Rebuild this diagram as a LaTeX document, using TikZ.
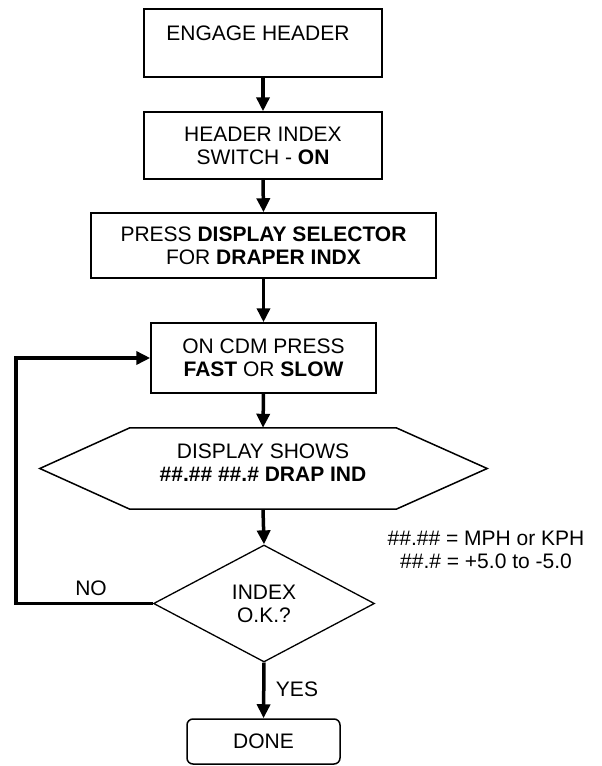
\documentclass[tikz,border=0pt]{standalone}
\usepackage{fontspec}
\setmainfont{Liberation Sans}
\usetikzlibrary{arrows.meta,shapes.geometric,calc}
\begin{document}
\begin{tikzpicture}[x=1pt,y=-1pt,
  every node/.style={font=\fontsize{21}{23}\selectfont, inner sep=0pt},
  stepbox/.style={draw, line width=1.5pt, align=center},
  flow/.style={line width=3.5pt, -{Triangle[length=14pt,width=13pt]}},
  ]
\useasboundingbox[fill=white] (0,0) rectangle (602,766);
% boxes
\node[stepbox, minimum width=238, minimum height=68] (b1) at (263,43) {};
\node (t1) at (258,33) {ENGAGE HEADER};
\node[stepbox, minimum width=238, minimum height=67] (b2) at (263,145.5) {HEADER INDEX\\SWITCH - \textbf{ON}};
\node[stepbox, minimum width=345, minimum height=65] (b3) at (263.5,245.5) {PRESS \textbf{DISPLAY SELECTOR}\\FOR \textbf{DRAPER INDX}};
\node[stepbox, minimum width=225, minimum height=70] (b4) at (263.5,358) {ON CDM PRESS\\\textbf{FAST} OR \textbf{SLOW}};
% hexagon
\node[minimum width=266, minimum height=81] (hex) at (263,468.5) {};
\draw[line width=1.5pt] (hex.north west) -- (hex.north east) -- ($(hex.east)+(91,0)$)
  -- (hex.south east) -- (hex.south west) -- ($(hex.west)+(-90,0)$) -- cycle;
\node[align=center] (hext) at (263,463) {DISPLAY SHOWS\\\textbf{\#\#.\#\# \#\#.\# DRAP IND}};
% decision
\node[diamond, draw, line width=1.3pt, minimum width=221, minimum height=117, align=center] (dia) at (264,603.5) {INDEX\\O.K.?};
% done
\node[stepbox, rounded corners=6pt, minimum width=153, minimum height=45] (done) at (263.5,741.5) {DONE};
% note
\node[align=center] (note) at (486,550) {\#\#.\#\# = MPH or KPH\\\#\#.\# = +5.0 to -5.0};
% connectors
\draw[flow] (b1.south) -- (b2.north);
\draw[flow] (b2.south) -- (b3.north);
\draw[flow] (b3.south) -- (b4.north);
\draw[flow] (b4.south) -- (hex.north);
\draw[flow] (hex.south) -- (dia.north);
\draw[flow] (dia.south) -- (done.north);
\draw[flow] (dia.west) -- ++(-137,0) |- (b4.west);
% labels
\node (no) at (91,588) {NO};
\node (yes) at (297,689) {YES};
\end{tikzpicture}
\end{document}
